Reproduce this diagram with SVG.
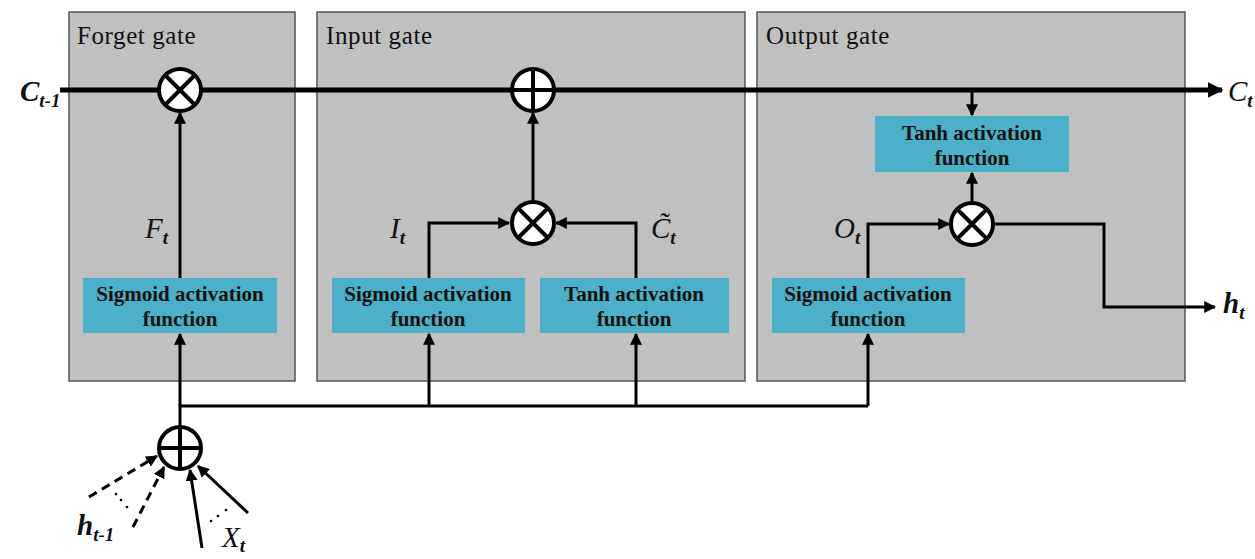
<svg xmlns="http://www.w3.org/2000/svg" width="1255" height="559" viewBox="0 0 1255 559">
<style>
.gate{fill:#c0c0c0;stroke:#555;stroke-width:1.5}
.title{font-family:"Liberation Serif",serif;font-size:25px;letter-spacing:0.6px;fill:#111}
.fn{fill:#4bb0c8}
.fnt{font-family:"Liberation Serif",serif;font-size:21px;font-weight:bold;fill:#111;text-anchor:middle}
.op{fill:#fff;stroke:#000;stroke-width:4}
.opl{stroke:#000;stroke-width:4}
.ln{fill:none;stroke:#000;stroke-width:3}
.lbl{font-family:"Liberation Serif",serif;font-size:29px;font-style:italic;fill:#111}
.sub{font-size:19px;font-weight:bold}
</style>
<defs>
<marker id="ah" viewBox="0 0 10 10" refX="9" refY="5" markerWidth="4" markerHeight="4" orient="auto" markerUnits="strokeWidth"><path d="M0,0 L10,5 L0,10 z" fill="#000"/></marker>
<marker id="ahb" viewBox="0 0 10 10" refX="9" refY="5" markerWidth="3.2" markerHeight="3.2" orient="auto" markerUnits="strokeWidth"><path d="M0,0 L10,5 L0,10 z" fill="#000"/></marker>
</defs>
<g id="forget-gate"><rect class="gate" x="69" y="12" width="226" height="369"/><text class="title" x="77" y="44">Forget gate</text></g>
<g id="input-gate"><rect class="gate" x="317" y="12" width="428" height="369"/><text class="title" x="326" y="44">Input gate</text></g>
<g id="output-gate"><rect class="gate" x="757" y="12" width="428" height="369"/><text class="title" x="766" y="44">Output gate</text></g>
<g id="connectors">
<line x1="60" y1="90" x2="1222" y2="90" stroke="#000" stroke-width="5" marker-end="url(#ahb)"/>
<line class="ln" x1="180" y1="278" x2="180" y2="113" marker-end="url(#ah)"/>
<polyline class="ln" points="180,426 180,406 868,406"/>
<line class="ln" x1="180" y1="406" x2="180" y2="334" marker-end="url(#ah)"/>
<line class="ln" x1="429" y1="406" x2="429" y2="334" marker-end="url(#ah)"/>
<line class="ln" x1="636" y1="406" x2="636" y2="334" marker-end="url(#ah)"/>
<polyline class="ln" points="868,406 868,334" marker-end="url(#ah)"/>
<polyline class="ln" points="429,278 429,223 509,223" marker-end="url(#ah)"/>
<polyline class="ln" points="636,278 636,223 556,223" marker-end="url(#ah)"/>
<line class="ln" x1="533" y1="201" x2="533" y2="113" marker-end="url(#ah)"/>
<line class="ln" x1="972" y1="92" x2="972" y2="115" marker-end="url(#ah)"/>
<line class="ln" x1="972" y1="202" x2="972" y2="173" marker-end="url(#ah)"/>
<polyline class="ln" points="868,278 868,224 949,224" marker-end="url(#ah)"/>
<polyline class="ln" points="995,224 1104,224 1104,307 1215,307" marker-end="url(#ah)"/>
<line class="ln" x1="89" y1="497" x2="157" y2="456" stroke-dasharray="9,6" marker-end="url(#ah)"/>
<line class="ln" x1="133" y1="527" x2="164" y2="467" stroke-dasharray="9,6" marker-end="url(#ah)"/>
<line class="ln" x1="202" y1="548" x2="190" y2="470" marker-end="url(#ah)"/>
<line class="ln" x1="248" y1="513" x2="198" y2="466" marker-end="url(#ah)"/>
<g fill="#000"><circle cx="116" cy="494" r="1.3"/><circle cx="121" cy="500" r="1.3"/><circle cx="127" cy="507" r="1.3"/><circle cx="211" cy="521" r="1.3"/><circle cx="218" cy="516" r="1.3"/><circle cx="226" cy="510" r="1.3"/></g>
</g>
<g id="forget-mult"><circle class="op" cx="180" cy="90" r="21"/><path class="opl" d="M165,75 L195,105 M195,75 L165,105"/></g>
<g id="input-add"><circle class="op" cx="533" cy="90" r="21"/><path class="opl" d="M512,90 L554,90 M533,69 L533,111"/></g>
<g id="input-mult"><circle class="op" cx="533" cy="223" r="21"/><path class="opl" d="M518,208 L548,238 M548,208 L518,238"/></g>
<g id="output-mult"><circle class="op" cx="972" cy="224" r="21"/><path class="opl" d="M957,209 L987,239 M987,209 L957,239"/></g>
<g id="input-add-bottom"><circle class="op" cx="180" cy="448" r="21"/><path class="opl" d="M159,448 L201,448 M180,427 L180,469"/></g>
<g id="forget-sigmoid"><rect class="fn" x="83" y="278" width="194" height="55"/><text class="fnt" x="180" y="301">Sigmoid activation</text><text class="fnt" x="180" y="326">function</text></g>
<g id="input-sigmoid"><rect class="fn" x="332" y="278" width="193" height="55"/><text class="fnt" x="428" y="301">Sigmoid activation</text><text class="fnt" x="428" y="326">function</text></g>
<g id="input-tanh"><rect class="fn" x="540" y="278" width="189" height="55"/><text class="fnt" x="634" y="301">Tanh activation</text><text class="fnt" x="634" y="326">function</text></g>
<g id="output-sigmoid"><rect class="fn" x="772" y="278" width="193" height="55"/><text class="fnt" x="868" y="301">Sigmoid activation</text><text class="fnt" x="868" y="326">function</text></g>
<g id="output-tanh"><rect class="fn" x="875" y="116" width="194" height="56"/><text class="fnt" x="972" y="140">Tanh activation</text><text class="fnt" x="972" y="165">function</text></g>
<g id="labels">
<text class="lbl" x="20" y="101" font-weight="bold">C<tspan class="sub" dy="6">t-1</tspan></text>
<text class="lbl" x="1228" y="101">C<tspan class="sub" dy="6">t</tspan></text>
<text class="lbl" x="145" y="238">F<tspan class="sub" dy="6">t</tspan></text>
<text class="lbl" x="390" y="238">I<tspan class="sub" dy="6">t</tspan></text>
<text class="lbl" x="651" y="238">C̃<tspan class="sub" dy="6">t</tspan></text>
<text class="lbl" x="834" y="238">O<tspan class="sub" dy="6">t</tspan></text>
<text class="lbl" x="1223" y="313" font-weight="bold">h<tspan class="sub" dy="6">t</tspan></text>
<text class="lbl" x="77" y="535" font-weight="bold">h<tspan class="sub" dy="6">t-1</tspan></text>
<text class="lbl" x="222" y="547">X<tspan class="sub" dy="5">t</tspan></text>
</g>
</svg>
